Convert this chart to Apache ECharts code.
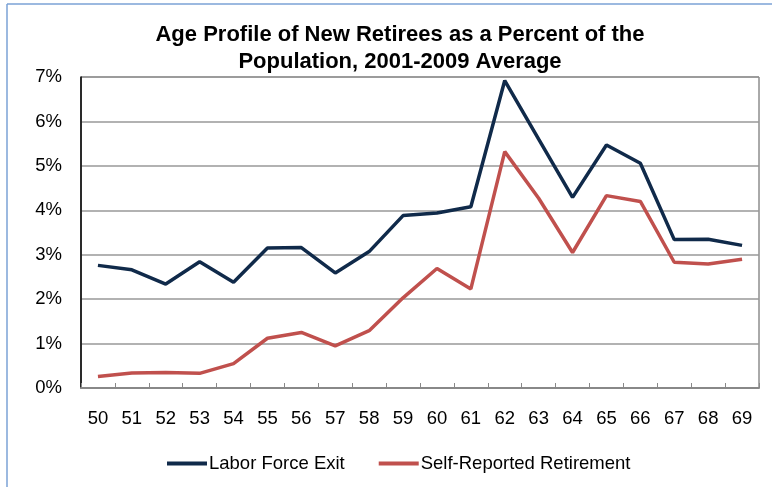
<!DOCTYPE html>
<html>
<head>
<meta charset="utf-8">
<script src="https://cdn.jsdelivr.net/npm/echarts@6/dist/echarts.min.js"></script>
<style>
  html, body { margin: 0; padding: 0; background: #fff; }
  #chart { width: 772px; height: 487px; }
</style>
</head>
<body>
<div id="chart"></div>
<script>
var ages = ["50", "51", "52", "53", "54", "55", "56", "57", "58", "59",
  "60", "61", "62", "63", "64", "65", "66", "67", "68", "69"];
var laborForceExit = [2.76, 2.66, 2.34, 2.84, 2.38, 3.15, 3.16, 2.59, 3.07, 3.88,
  3.94, 4.08, 6.92, 5.60, 4.29, 5.47, 5.06, 3.34, 3.35, 3.21];
var selfReported = [0.26, 0.34, 0.35, 0.33, 0.55, 1.12, 1.25, 0.95, 1.29, 2.03,
  2.69, 2.23, 5.32, 4.27, 3.05, 4.33, 4.20, 2.83, 2.79, 2.90];
var yTicks = [0, 1, 2, 3, 4, 5, 6, 7];

var font = "Liberation Sans, Arial, sans-serif";
var myChart = echarts.init(document.getElementById("chart"));
myChart.setOption({
  animation: false,
  title: {
    text: "Age Profile of New Retirees as a Percent of the\nPopulation, 2001-2009 Average",
    left: 395,
    top: 16,
    textAlign: "center",
    textStyle: { fontFamily: font, fontSize: 22, fontWeight: "bold", color: "#000", lineHeight: 27 }
  },
  graphic: [
    { type: "line", shape: { x1: 7, y1: 4, x2: 7, y2: 487 }, style: { stroke: "#7ba2d6", lineWidth: 1.5 } },
    { type: "line", shape: { x1: 7, y1: 4, x2: 772, y2: 4 }, style: { stroke: "#7ba2d6", lineWidth: 1.5 } }
  ],
  legend: {
    top: 449,
    left: 162,
    itemWidth: 40,
    itemHeight: 4,
    itemGap: 34,
    icon: "rect",
    textStyle: { fontFamily: font, fontSize: 18.5, color: "#000", padding: [0, 0, 0, -3] },
    data: ["Labor Force Exit", "Self-Reported Retirement"]
  },
  grid: {
    left: 81, right: 13, top: 77, bottom: 99,
    show: true, borderColor: "#555", borderWidth: 1
  },
  xAxis: {
    type: "category",
    data: ages,
    axisLine: { lineStyle: { color: "#888", width: 2 } },
    axisTick: { show: true, inside: true, length: 5, lineStyle: { color: "#888" } },
    axisLabel: { fontFamily: font, fontSize: 18.5, color: "#000", margin: 21 }
  },
  yAxis: {
    type: "value",
    min: 0,
    max: 7,
    interval: 1,
    axisLine: { show: true, lineStyle: { color: "#000", width: 1.5 } },
    axisTick: { show: false },
    splitLine: { lineStyle: { color: "#999", width: 1.5 } },
    axisLabel: {
      fontFamily: font, fontSize: 18.5, color: "#000", margin: 19,
      formatter: function (v) { return yTicks.indexOf(v) >= 0 ? v + "%" : ""; }
    }
  },
  series: [
    {
      name: "Labor Force Exit",
      type: "line",
      data: laborForceExit,
      symbol: "none",
      lineStyle: { color: "#102a4a", width: 3.5 },
      itemStyle: { color: "#102a4a" }
    },
    {
      name: "Self-Reported Retirement",
      type: "line",
      data: selfReported,
      symbol: "none",
      lineStyle: { color: "#c0504d", width: 3.5 },
      itemStyle: { color: "#c0504d" }
    }
  ]
});
</script>
</body>
</html>
